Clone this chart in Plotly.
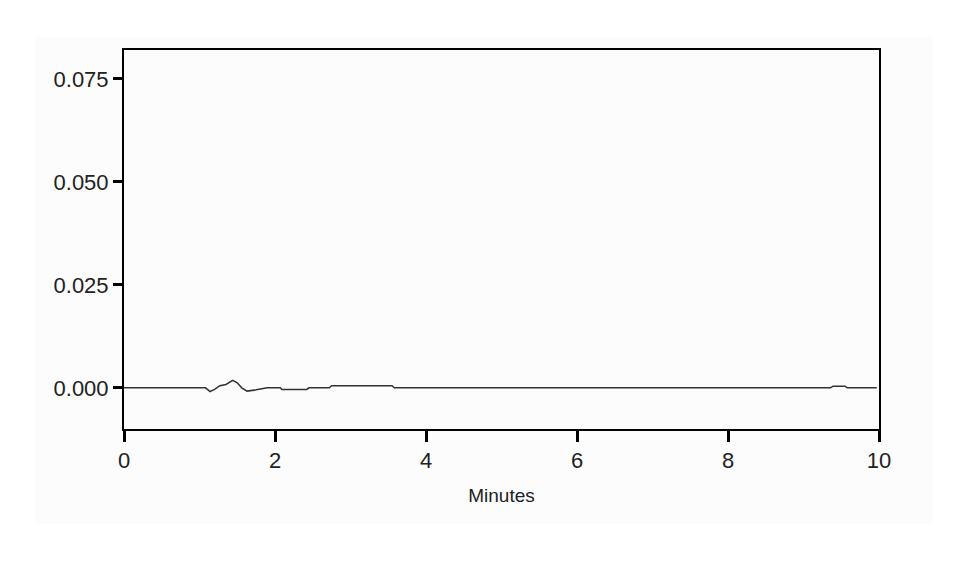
import plotly.graph_objects as go

# Chromatogram trace (minutes vs absorbance)
minutes = [0, 1.08, 1.14, 1.2, 1.27, 1.35, 1.44, 1.5, 1.56, 1.63, 1.75, 1.84, 1.9, 2.07, 2.09, 2.42,
           2.45, 2.72, 2.75, 3.55, 3.58, 9.36, 9.39, 9.55, 9.58, 9.97]
signal = [0, 0, -0.0009, -0.0004, 0.0005, 0.0008, 0.0018, 0.0012, 0.0, -0.0008, -0.0005, -0.0003, 0,
          0, -0.0004, -0.0004, 0, 0, 0.0005, 0.0005, 0, 0, 0.0004, 0.0004, 0, 0]

x_ticks = [0, 2, 4, 6, 8, 10]
y_ticks = [0.0, 0.025, 0.050, 0.075]
y_tick_labels = ["0.000", "0.025", "0.050", "0.075"]

fig = go.Figure()
fig.add_trace(go.Scatter(x=minutes, y=signal, mode="lines",
                         line=dict(color="#333333", width=1.5), showlegend=False))

font = dict(family="Liberation Sans, Arial, sans-serif", size=22, color="#222222")

fig.update_layout(
    width=954, height=575,
    margin=dict(l=124, r=75, t=50, b=146),
    paper_bgcolor="white",
    plot_bgcolor="#fcfcfc",
    font=font,
    shapes=[dict(type="rect", xref="paper", yref="paper",
                 x0=-0.1179, x1=1.0715, y0=-0.2507, y1=1.0343,
                 fillcolor="#fcfcfc", line=dict(width=0), layer="below")],
    xaxis=dict(range=[0, 10], tickvals=x_ticks, ticks="outside", ticklen=11, tickwidth=3,
               tickcolor="black", showline=True, linecolor="black", linewidth=2, mirror=True,
               showgrid=False, zeroline=False,
               title=dict(text="Minutes", font=dict(size=19), standoff=16)),
    yaxis=dict(range=[-0.01, 0.082], tickvals=y_ticks, ticktext=y_tick_labels,
               ticks="outside", ticklen=9, tickwidth=3, tickcolor="black",
               showline=True, linecolor="black", linewidth=2, mirror=True,
               showgrid=False, zeroline=False),
)

fig.write_html("out.html", config={"displayModeBar": False},
               post_script="document.body.style.margin='0px';")
